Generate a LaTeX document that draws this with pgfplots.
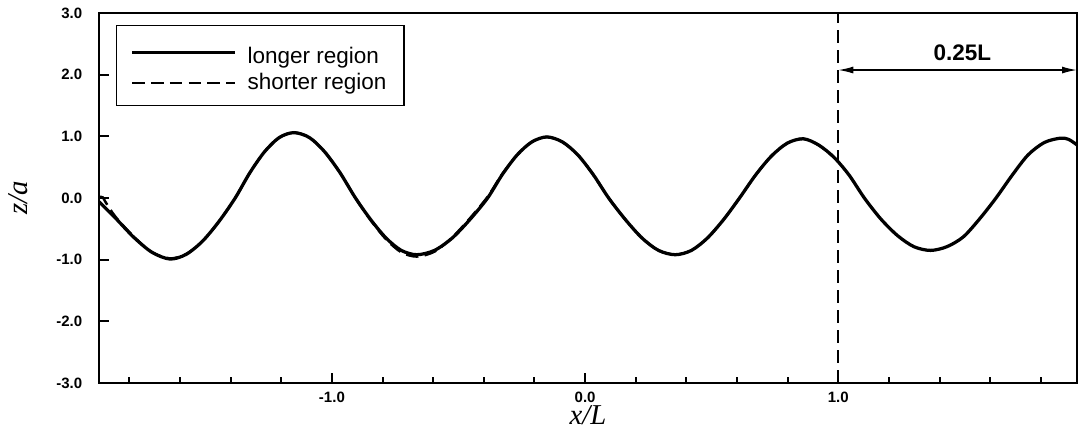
\documentclass[border=0pt]{standalone}
\usepackage{fontspec}
\setmainfont{Liberation Sans}
\newfontfamily\lserif{Liberation Serif}
\usepackage{pgfplots}
\usepackage{pgfplotstable}
\pgfplotsset{compat=1.18}
\usetikzlibrary{arrows.meta}

% longer region
\pgfplotstableread{
x z
-1.920 -0.06
-1.854 -0.33
-1.782 -0.64
-1.711 -0.88
-1.640 -0.99
-1.576 -0.915
-1.511 -0.70
-1.446 -0.38
-1.382 0.00
-1.324 0.41
-1.266 0.75
-1.208 0.98
-1.150 1.06
-1.089 0.98
-1.029 0.75
-0.968 0.41
-0.907 0.00
-0.847 -0.35
-0.786 -0.65
-0.726 -0.85
-0.665 -0.92
-0.595 -0.85
-0.525 -0.65
-0.455 -0.35
-0.385 0.00
-0.327 0.38
-0.268 0.70
-0.210 0.91
-0.151 0.99
-0.090 0.91
-0.029 0.70
0.032 0.38
0.093 0.00
0.159 -0.35
0.225 -0.65
0.290 -0.85
0.356 -0.92
0.420 -0.85
0.483 -0.65
0.547 -0.35
0.610 0.00
0.673 0.37
0.736 0.68
0.799 0.89
0.862 0.96
0.922 0.86
0.983 0.66
1.043 0.37
1.103 0.00
1.168 -0.34
1.234 -0.61
1.299 -0.79
1.364 -0.85
1.429 -0.79
1.494 -0.63
1.558 -0.34
1.623 0.00
1.687 0.37
1.750 0.70
1.814 0.90
1.877 0.97
1.910 0.95
1.943 0.86
}\longer

% shorter region
\pgfplotstableread{
x z
-1.920 0.02
-1.905 0.01
-1.895 -0.06
-1.854 -0.31
-1.782 -0.63
-1.711 -0.88
-1.640 -0.98
-1.576 -0.91
-1.511 -0.70
-1.446 -0.38
-1.382 0.00
-1.324 0.41
-1.266 0.75
-1.208 0.98
-1.150 1.06
-1.089 0.98
-1.029 0.75
-0.968 0.41
-0.907 0.00
-0.847 -0.36
-0.786 -0.67
-0.726 -0.88
-0.665 -0.95
-0.595 -0.87
-0.525 -0.64
-0.455 -0.33
-0.385 0.02
-0.327 0.39
-0.268 0.70
-0.210 0.91
-0.151 0.99
-0.090 0.91
-0.029 0.70
0.032 0.38
0.093 0.00
0.159 -0.35
0.225 -0.65
0.290 -0.85
0.356 -0.92
0.420 -0.85
0.483 -0.65
0.547 -0.35
0.610 0.00
0.673 0.37
0.736 0.68
0.799 0.89
0.862 0.96
0.922 0.86
0.983 0.66
}\shorter

\begin{document}
\begin{tikzpicture}
\begin{axis}[
  scale only axis,
  width=391.2pt, height=148pt,
  xmin=-1.92, xmax=1.943,
  ymin=-3, ymax=3,
  axis line style={line width=1pt},
  tick align=inside,
  xtick pos=left, ytick pos=left,
  xtick={-1,0,1},
  minor xtick={-1.8,-1.6,-1.4,-1.2,-0.8,-0.6,-0.4,-0.2,0.2,0.4,0.6,0.8,1.2,1.4,1.6,1.8},
  ytick={-3,-2,-1,0,1,2,3},
  major tick length=4pt, minor tick length=2.4pt,
  every tick/.style={black, line width=0.8pt},
  tick label style={font=\fontsize{6}{7}\selectfont\bfseries},
  /pgf/number format/assume math mode=true,
  /pgf/number format/.cd, fixed, fixed zerofill, precision=1, /pgfplots/.cd,
  yticklabel style={xshift=-3.2pt},
  xlabel={\lserif\itshape x/L},
  ylabel={\lserif\itshape z/a},
  x label style={at={(axis description cs:0.5,-0.0865)}, anchor=center, font=\fontsize{11.5}{12}\selectfont},
  y label style={at={(axis description cs:-0.0823,0.5)}, anchor=center, font=\fontsize{11.5}{12}\selectfont},
  legend style={at={(axis description cs:0.0174,0.9676)}, anchor=north west,
    draw=black, line width=0.5pt, inner xsep=4pt, inner ysep=3pt, row sep=-1.6pt,
    font=\fontsize{9}{10}\selectfont,
    nodes={inner xsep=3pt}},
  legend cell align=left,
  legend image code/.code={\path (0pt,0pt); \draw[#1] (1.6pt,0pt) -- (42.6pt,0pt);},
]
\addplot[black, line width=1.3pt, smooth] table {\longer};
\addlegendentry{\hspace*{1.5pt}\rule{0pt}{10pt}longer region}
\addplot[black, line width=1pt, smooth, dash pattern=on 5pt off 2.5pt] table {\shorter};
\addlegendentry{\hspace*{1.5pt}shorter region}
\addplot[black, line width=0.8pt, dash pattern=on 5pt off 3pt, forget plot] coordinates {(1,-3) (1,3)};
\draw[line width=0.6pt, {Latex[length=6pt,width=2.8pt]}-{Latex[length=6pt,width=2.8pt]}] (axis cs:1,2.075) -- (axis cs:1.943,2.075);
\node[font=\fontsize{9}{10}\selectfont\bfseries] at (axis cs:1.49,2.35) {0.25L};
\end{axis}
\pgfresetboundingbox
\path ([shift={(-39.6pt,-18.4pt)}]current axis.south west) rectangle ([shift={(1.2pt,5.2pt)}]current axis.north east);
\end{tikzpicture}
\end{document}
